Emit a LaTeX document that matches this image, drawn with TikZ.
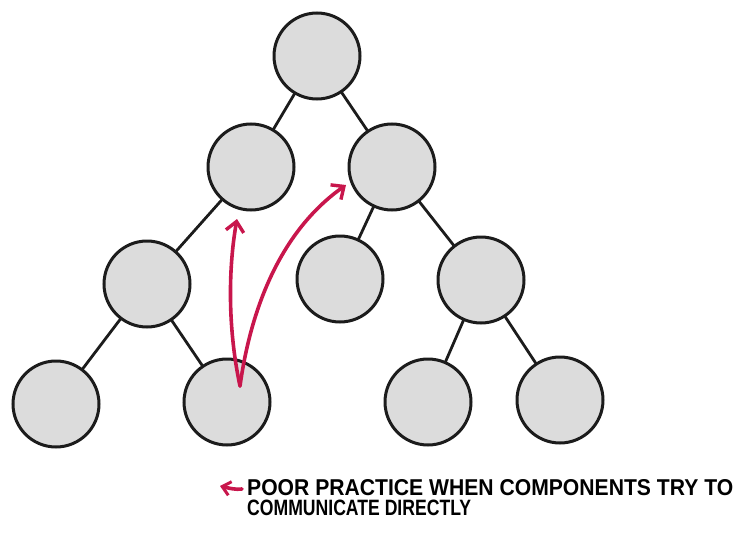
\documentclass[tikz,border=0pt]{standalone}
\usepackage{fontspec}
\usetikzlibrary{arrows.meta}
\newfontfamily\lblfont{Liberation Sans}
\definecolor{nodefill}{HTML}{DCDCDC}
\definecolor{nodeline}{HTML}{1C1C1C}
\definecolor{warnred}{HTML}{C8164C}
\begin{document}
\begin{tikzpicture}[x=1pt,y=-1pt,
  comp/.style={circle,draw=nodeline,line width=3pt,fill=nodefill,minimum size=86pt,inner sep=0pt},
  edge/.style={draw=nodeline,line width=2.8pt},
  redarrow/.style={draw=warnred,line width=3.6pt,line cap=round,-{Straight Barb[length=10pt,width=18pt,line width=3.4pt]}},
  lbl/.style={inner sep=0pt,anchor=north west,text=black}]
\useasboundingbox (0,0) rectangle (750,546);
% node positions
\coordinate (pr) at (317,56);
\coordinate (pa) at (251,167);
\coordinate (pb) at (392,167);
\coordinate (pc) at (147,284);
\coordinate (pd) at (340,279);
\coordinate (pe) at (481,280);
\coordinate (pf) at (56,404);
\coordinate (pg) at (227,402);
\coordinate (ph) at (428,402);
\coordinate (pi) at (560,400);
% edges (behind)
\draw[edge] (pr) -- (pa);
\draw[edge] (pr) -- (pb);
\draw[edge] (pa) -- (pc);
\draw[edge] (pb) -- (pd);
\draw[edge] (pb) -- (pe);
\draw[edge] (pc) -- (pf);
\draw[edge] (pc) -- (pg);
\draw[edge] (pe) -- (ph);
\draw[edge] (pe) -- (pi);
% components
\node[comp] (r) at (pr) {};
\node[comp] (a) at (pa) {};
\node[comp] (b) at (pb) {};
\node[comp] (c) at (pc) {};
\node[comp] (d) at (pd) {};
\node[comp] (e) at (pe) {};
\node[comp] (f) at (pf) {};
\node[comp] (g) at (pg) {};
\node[comp] (h) at (ph) {};
\node[comp] (i) at (pi) {};
% red arrows
\coordinate (src) at (240,386);
\coordinate (tipa) at (237,219);
\coordinate (tipb) at (346,185);
\draw[redarrow] (src) .. controls (228,330) and (228,270) .. (tipa);
\draw[redarrow] (src) .. controls (252,300) and (285,228) .. (tipb);
% legend
\coordinate (legtail) at (242,489);
\coordinate (legtip) at (220,486);
\draw[redarrow,-{Straight Barb[length=8pt,width=14pt,line width=3pt]}] (legtail) .. controls (236,490) and (228,488) .. (legtip);
\node[lbl] (t1) at (247,479) {\resizebox{486pt}{16pt}{\lblfont\bfseries POOR PRACTICE WHEN COMPONENTS TRY TO}};
\node[lbl] (t2) at (247,500) {\resizebox{224pt}{15.5pt}{\lblfont\bfseries COMMUNICATE DIRECTLY}};
\end{tikzpicture}
\end{document}
